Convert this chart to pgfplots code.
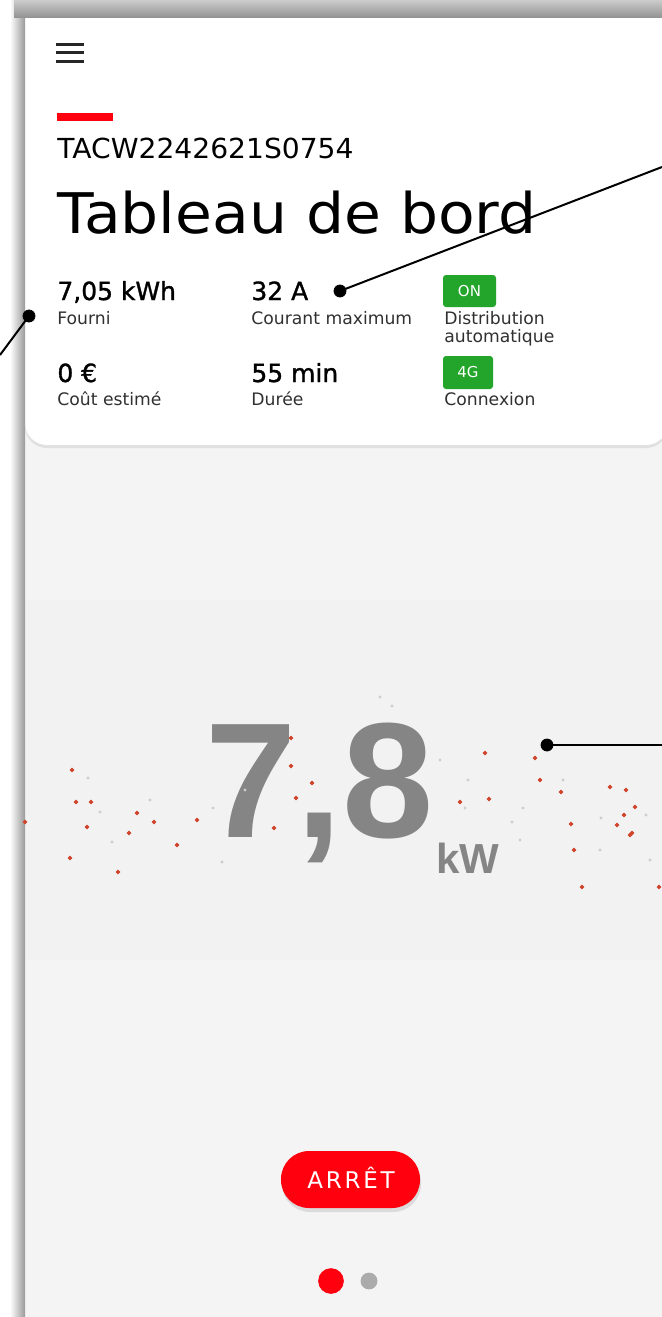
\documentclass[border=0pt]{standalone}
\usepackage{pgfplots}
\pgfplotsset{compat=1.18}
\usepackage{fontspec}
\setmainfont{DejaVu Sans}
\newfontfamily\numfont{Liberation Sans}
\definecolor{abbred}{HTML}{FF000F}
\definecolor{okgreen}{HTML}{22A52A}
\definecolor{numgray}{HTML}{858585}
\definecolor{bg}{HTML}{F4F4F4}
\definecolor{bgband}{HTML}{F2F2F2}
\definecolor{lbl}{HTML}{303030}
\definecolor{particle}{HTML}{D0452C}
\definecolor{faint}{HTML}{CDCDCD}
\newcommand{\fs}[1]{\fontsize{#1}{#1}\selectfont}
\newcommand{\val}{\fs{12.5pt}\addfontfeature{FakeBold=1.2}}
\begin{document}
\begin{tikzpicture}
\begin{axis}[scale only axis, width=331pt, height=658.5pt,
  xmin=0, xmax=662, ymin=0, ymax=1317, y dir=reverse,
  axis lines=none, clip=true]
% page background
\fill[white] (axis cs:0,0) rectangle (axis cs:662,1317);
\fill[bg] (axis cs:25,17) rectangle (axis cs:662,1317);
\fill[bgband] (axis cs:25,600) rectangle (axis cs:662,960);
% card with shadow
\fill[black!12, rounded corners=11pt] (axis cs:25,-40) rectangle (axis cs:668,448);
\fill[white, rounded corners=11pt] (axis cs:25,-40) rectangle (axis cs:668,445);
% frame shadows
\shade[left color=white, right color=black!40] (axis cs:10,0) rectangle (axis cs:25,1317);
\shade[top color=black!20, bottom color=black!42] (axis cs:14,0) rectangle (axis cs:662,17);
% hamburger
\draw[line width=1.5pt, black!85] (axis cs:56,44) -- (axis cs:84,44);
\draw[line width=1.5pt, black!85] (axis cs:56,52.5) -- (axis cs:84,52.5);
\draw[line width=1.5pt, black!85] (axis cs:56,61) -- (axis cs:84,61);
% red accent
\fill[abbred] (axis cs:57,113) rectangle (axis cs:113,121);
% header texts
\node[anchor=base west, inner sep=0, font=\fs{13.8pt}, xscale=1.02] at (axis cs:57,158) {TACW2242621S0754};
\node[anchor=base west, inner sep=0, font=\fs{28pt}, xscale=1.07] at (axis cs:57,233) {Tableau de bord};
% values
\node[anchor=base west, inner sep=0, font=\val] at (axis cs:57,300) {7,05 kWh};
\node[anchor=base west, inner sep=0, font=\fs{8.6pt}, text=lbl] at (axis cs:57,324) {Fourni};
\node[anchor=base west, inner sep=0, font=\val] at (axis cs:251,300) {32 A};
\node[anchor=base west, inner sep=0, font=\fs{8.6pt}, text=lbl] at (axis cs:251,324) {Courant maximum};
\fill[okgreen, rounded corners=1.5pt] (axis cs:443,275) rectangle (axis cs:496,307);
\node[inner sep=0, font=\fs{7.5pt}, text=white] at (axis cs:469.5,291) {ON};
\node[anchor=base west, inner sep=0, font=\fs{8.6pt}, text=lbl] at (axis cs:444,324) {Distribution};
\node[anchor=base west, inner sep=0, font=\fs{8.6pt}, text=lbl] at (axis cs:444,342) {automatique};
\node[anchor=base west, inner sep=0, font=\val] at (axis cs:57,382) {0 €};
\node[anchor=base west, inner sep=0, font=\fs{8.6pt}, text=lbl] at (axis cs:57,405) {Coût estimé};
\node[anchor=base west, inner sep=0, font=\val] at (axis cs:251,382) {55 min};
\node[anchor=base west, inner sep=0, font=\fs{8.6pt}, text=lbl] at (axis cs:251,405) {Durée};
\fill[okgreen, rounded corners=1.5pt] (axis cs:443,356) rectangle (axis cs:493,389);
\node[inner sep=0, font=\fs{7.5pt}, text=white] at (axis cs:468,372.5) {4G};
\node[anchor=base west, inner sep=0, font=\fs{8.6pt}, text=lbl] at (axis cs:444,405) {Connexion};
% particles
\addplot[only marks, mark=*, mark size=0.55pt, faint] coordinates {
(222,862) (213,808) (392,706) (380,697) (465,808) (512,822) (523,808)
(600,850) (646,815) (150,800) (112,842) (88,778) (245,790) (468,780)
(520,840) (563,780) (650,860) (100,812) (440,760) (601,818)};
\addplot[only marks, mark=*, mark size=0.9pt, particle] coordinates {
(72,770) (91,802) (76,802) (87,827) (129,833) (137,813) (154,822)
(177,845) (197,820) (70,858) (118,872) (25,822) (291,738) (291,766)
(312,783) (296,798) (274,828) (485,753) (489,799) (460,802) (540,780)
(535,758) (561,792) (571,824) (574,850) (626,790) (635,807) (624,815)
(617,825) (630,835) (582,887) (659,887) (610,787) (632,833)};
% big value
\node[anchor=base west, inner sep=0, text=numgray, font=\numfont\bfseries\fs{82pt}] at (axis cs:205,837) {7,8};
\node[anchor=base west, inner sep=0, text=numgray, font=\numfont\bfseries\fs{21pt}] at (axis cs:436,873) {kW};
% callouts
\addplot[black, line width=1pt, no marks] coordinates {(340,291) (662,167)};
\addplot[black, line width=1pt, no marks] coordinates {(29,316) (0,355)};
\addplot[black, line width=1pt, no marks] coordinates {(547,745) (662,745)};
\addplot[only marks, mark=*, mark size=3pt, black] coordinates {(340,291) (29,316) (547,745)};
% button
\fill[black!14, rounded corners=14pt] (axis cs:282,1155) rectangle (axis cs:421,1212);
\fill[abbred, rounded corners=14pt] (axis cs:281,1151) rectangle (axis cs:420,1208);
\node[anchor=base, inner sep=0, text=white, font=\fs{11.5pt}\addfontfeature{LetterSpace=12}] at (axis cs:351,1188) {ARRÊT};
% page indicator
\addplot[only marks, mark=*, mark size=6.2pt, abbred] coordinates {(331,1281)};
\addplot[only marks, mark=*, mark size=4pt, fill={rgb,255:red,171;green,171;blue,171}, draw={rgb,255:red,171;green,171;blue,171}] coordinates {(369,1281)};
\end{axis}
\end{tikzpicture}
\end{document}
